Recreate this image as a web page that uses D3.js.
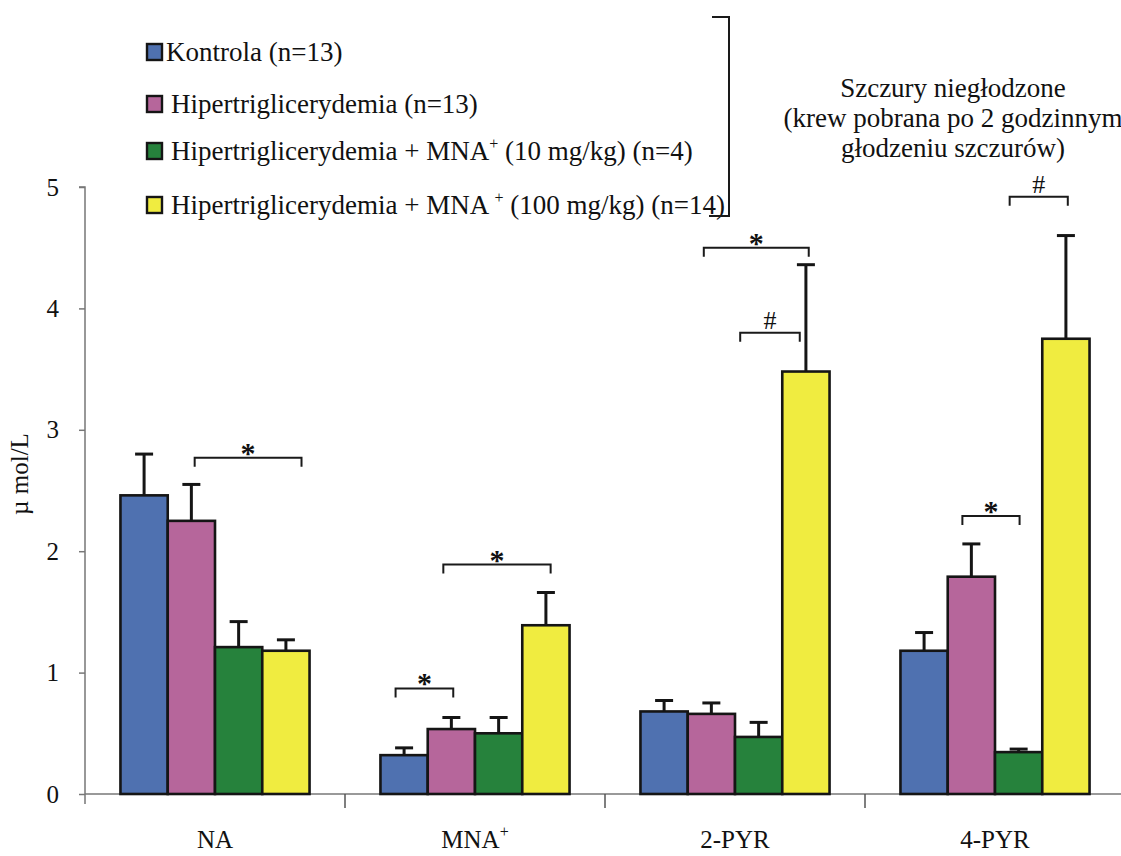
<!DOCTYPE html>
<html>
<head>
<meta charset="utf-8">
<script src="https://cdn.jsdelivr.net/npm/d3@7"></script>
<style>
  html, body { margin: 0; padding: 0; background: #fff; }
  svg text { font-family: "Liberation Serif", "Times New Roman", serif; fill: #111; }
</style>
</head>
<body>
<svg id="chart" width="1121" height="856"></svg>
<script>
// Plasma concentrations (µmol/L) of nicotinamide metabolites, mean + SEM
const categories = ["NA", "MNA+", "2-PYR", "4-PYR"];
const seriesNames = ["Kontrola (n=13)", "Hipertriglicerydemia (n=13)",
  "Hipertriglicerydemia + MNA+ (10 mg/kg) (n=4)", "Hipertriglicerydemia + MNA + (100 mg/kg) (n=14)"];
const seriesColors = ["#4f71b0", "#b6669b", "#26823c", "#f0ec40"];

const kontrolaMean = [2.46, 0.32, 0.68, 1.18];
const hiperMean    = [2.25, 0.535, 0.66, 1.79];
const mna10Mean    = [1.21, 0.50, 0.47, 0.345];
const mna100Mean   = [1.18, 1.39, 3.48, 3.75];

const kontrolaSem = [0.34, 0.06, 0.09, 0.15];
const hiperSem    = [0.30, 0.095, 0.09, 0.27];
const mna10Sem    = [0.21, 0.13, 0.12, 0.025];
const mna100Sem   = [0.09, 0.27, 0.88, 0.85];

const yTicks = [0, 1, 2, 3, 4, 5];

// significance brackets: category, span in bar units (0 = first bar centre), level in µmol/L
const brackets = [
  { cat: "NA",    from: 1.07,  to: 3.33, level: 2.77, mark: "*" },
  { cat: "MNA+",  from: -0.18, to: 1.04, level: 0.87, mark: "*" },
  { cat: "MNA+",  from: 0.83,  to: 3.10, level: 1.89, mark: "*" },
  { cat: "2-PYR", from: 0.84,  to: 3.06, level: 4.50, mark: "*" },
  { cat: "2-PYR", from: 1.61,  to: 2.87, level: 3.80, mark: "#" },
  { cat: "4-PYR", from: 0.81,  to: 2.02, level: 2.29, mark: "*" },
  { cat: "4-PYR", from: 1.81,  to: 3.04, level: 4.92, mark: "#" }
];

const means = [kontrolaMean, hiperMean, mna10Mean, mna100Mean];
const sems = [kontrolaSem, hiperSem, mna10Sem, mna100Sem];

const svg = d3.select("#chart");
const axisLeft = 85, axisRight = 1125, yBottom = 794, yTop = 187;

const x0 = d3.scaleBand().domain(categories).range([axisLeft, axisRight]).padding(0);
const x1 = d3.scaleBand().domain(d3.range(4)).range([0, x0.bandwidth()])
  .paddingInner(0).paddingOuter(0.75);
const y = d3.scaleLinear().domain([0, 5]).range([yBottom, yTop]);
const barPos = (cat, u) => x0(cat) + x1(0) + x1.bandwidth() / 2 + u * x1.step();

// y axis
const yAxis = svg.append("g").attr("transform", `translate(${axisLeft},0)`)
  .call(d3.axisLeft(y).tickValues(yTicks).tickSize(6).tickPadding(20).tickFormat(d3.format("d")));
yAxis.select(".domain").attr("stroke", "#777").attr("stroke-width", 1.5)
  .attr("d", `M-6,${yTop}H0V${yBottom + 10}`);
yAxis.selectAll(".tick line").attr("stroke", "#777").attr("stroke-width", 1.5);
yAxis.selectAll(".tick text").style("font-size", "25px").attr("fill", "#111");

// x axis with separators between categories
const xg = svg.append("g");
xg.append("line").attr("x1", axisLeft).attr("x2", axisRight).attr("y1", yBottom).attr("y2", yBottom)
  .attr("stroke", "#777").attr("stroke-width", 1.5);
xg.selectAll("line.sep").data(categories.slice(1)).join("line").attr("class", "sep")
  .attr("x1", d => x0(d)).attr("x2", d => x0(d)).attr("y1", yBottom).attr("y2", yBottom + 14)
  .attr("stroke", "#555").attr("stroke-width", 1.5);

const xLab = xg.selectAll("text.cat").data(categories).join("text").attr("class", "cat")
  .attr("x", d => x0(d) + x0.bandwidth() / 2).attr("y", 848)
  .attr("text-anchor", "middle").style("font-size", "25px");
xLab.each(function (d) {
  const t = d3.select(this);
  if (d.endsWith("+")) {
    t.append("tspan").text(d.slice(0, -1));
    t.append("tspan").attr("dy", -11).style("font-size", "16px").text("+");
  } else t.text(d);
});

// y axis title
svg.append("text").attr("transform", "translate(28,474) rotate(-90)")
  .attr("text-anchor", "middle").style("font-size", "25px").text("µ mol/L");

// bars
const groups = svg.append("g").selectAll("g").data(categories).join("g")
  .attr("transform", d => `translate(${x0(d)},0)`);
const cells = (c, ci) => d3.range(4).map(s => ({ s, v: means[s][ci], e: sems[s][ci] }));

groups.selectAll("rect").data(cells).join("rect")
  .attr("x", d => x1(d.s)).attr("width", x1.bandwidth())
  .attr("y", d => y(d.v)).attr("height", d => y(0) - y(d.v))
  .attr("fill", d => seriesColors[d.s]).attr("stroke", "#151515").attr("stroke-width", 2.6);

// error bars (upper half only)
const eb = groups.selectAll("g.err").data(cells).join("g").attr("class", "err");
eb.append("line")
  .attr("x1", d => x1(d.s) + x1.bandwidth() / 2).attr("x2", d => x1(d.s) + x1.bandwidth() / 2)
  .attr("y1", d => y(d.v)).attr("y2", d => y(d.v + d.e))
  .attr("stroke", "#151515").attr("stroke-width", 3);
eb.append("line")
  .attr("x1", d => x1(d.s) + x1.bandwidth() / 2 - 9).attr("x2", d => x1(d.s) + x1.bandwidth() / 2 + 9)
  .attr("y1", d => y(d.v + d.e)).attr("y2", d => y(d.v + d.e))
  .attr("stroke", "#151515").attr("stroke-width", 3);

// significance brackets
const bg = svg.append("g").selectAll("g").data(brackets).join("g");
bg.append("path")
  .attr("d", b => {
    const xa = barPos(b.cat, b.from), xb = barPos(b.cat, b.to), yl = y(b.level);
    return `M${xa},${yl + 9}V${yl}H${xb}V${yl + 9}`;
  })
  .attr("fill", "none").attr("stroke", "#1a1a1a").attr("stroke-width", 2);
bg.append("text")
  .attr("x", b => (barPos(b.cat, b.from) + barPos(b.cat, b.to)) / 2)
  .attr("y", b => y(b.level) + (b.mark === "*" ? 5 : -4))
  .attr("text-anchor", "middle")
  .style("font-size", b => b.mark === "*" ? "30px" : "26px")
  .style("font-weight", b => b.mark === "*" ? "bold" : "normal")
  .text(b => b.mark);

// legend
const legendRows = [52, 104, 151, 205];
const lg = svg.append("g").selectAll("g").data(seriesNames).join("g")
  .attr("transform", (d, i) => `translate(147,${legendRows[i]})`);
lg.append("rect").attr("x", 0).attr("y", -8).attr("width", 15).attr("height", 16)
  .attr("fill", (d, i) => seriesColors[i]).attr("stroke", "#151515").attr("stroke-width", 2.4);
lg.append("text").attr("x", (d, i) => i === 0 ? 19 : 24).attr("y", 9).style("font-size", "27px")
  .each(function (d) {
    const t = d3.select(this);
    const m = d.match(/^(.*MNA ?)\+(.*)$/);
    if (m) {
      t.append("tspan").text(m[1]);
      t.append("tspan").attr("dy", -11).style("font-size", "16px").text("+");
      t.append("tspan").attr("dy", 11).text(m[2]);
    } else t.text(d);
  });

// bracket grouping the legend
svg.append("path").attr("d", "M712,17H729V216H709")
  .attr("fill", "none").attr("stroke", "#1a1a1a").attr("stroke-width", 2);

// feeding note
const note = ["Szczury niegłodzone", "(krew pobrana po 2 godzinnym", "głodzeniu szczurów)"];
svg.append("g").selectAll("text").data(note).join("text")
  .attr("x", 953).attr("y", (d, i) => 97 + i * 30)
  .attr("text-anchor", "middle").style("font-size", "27px").text(d => d);
</script>
</body>
</html>
